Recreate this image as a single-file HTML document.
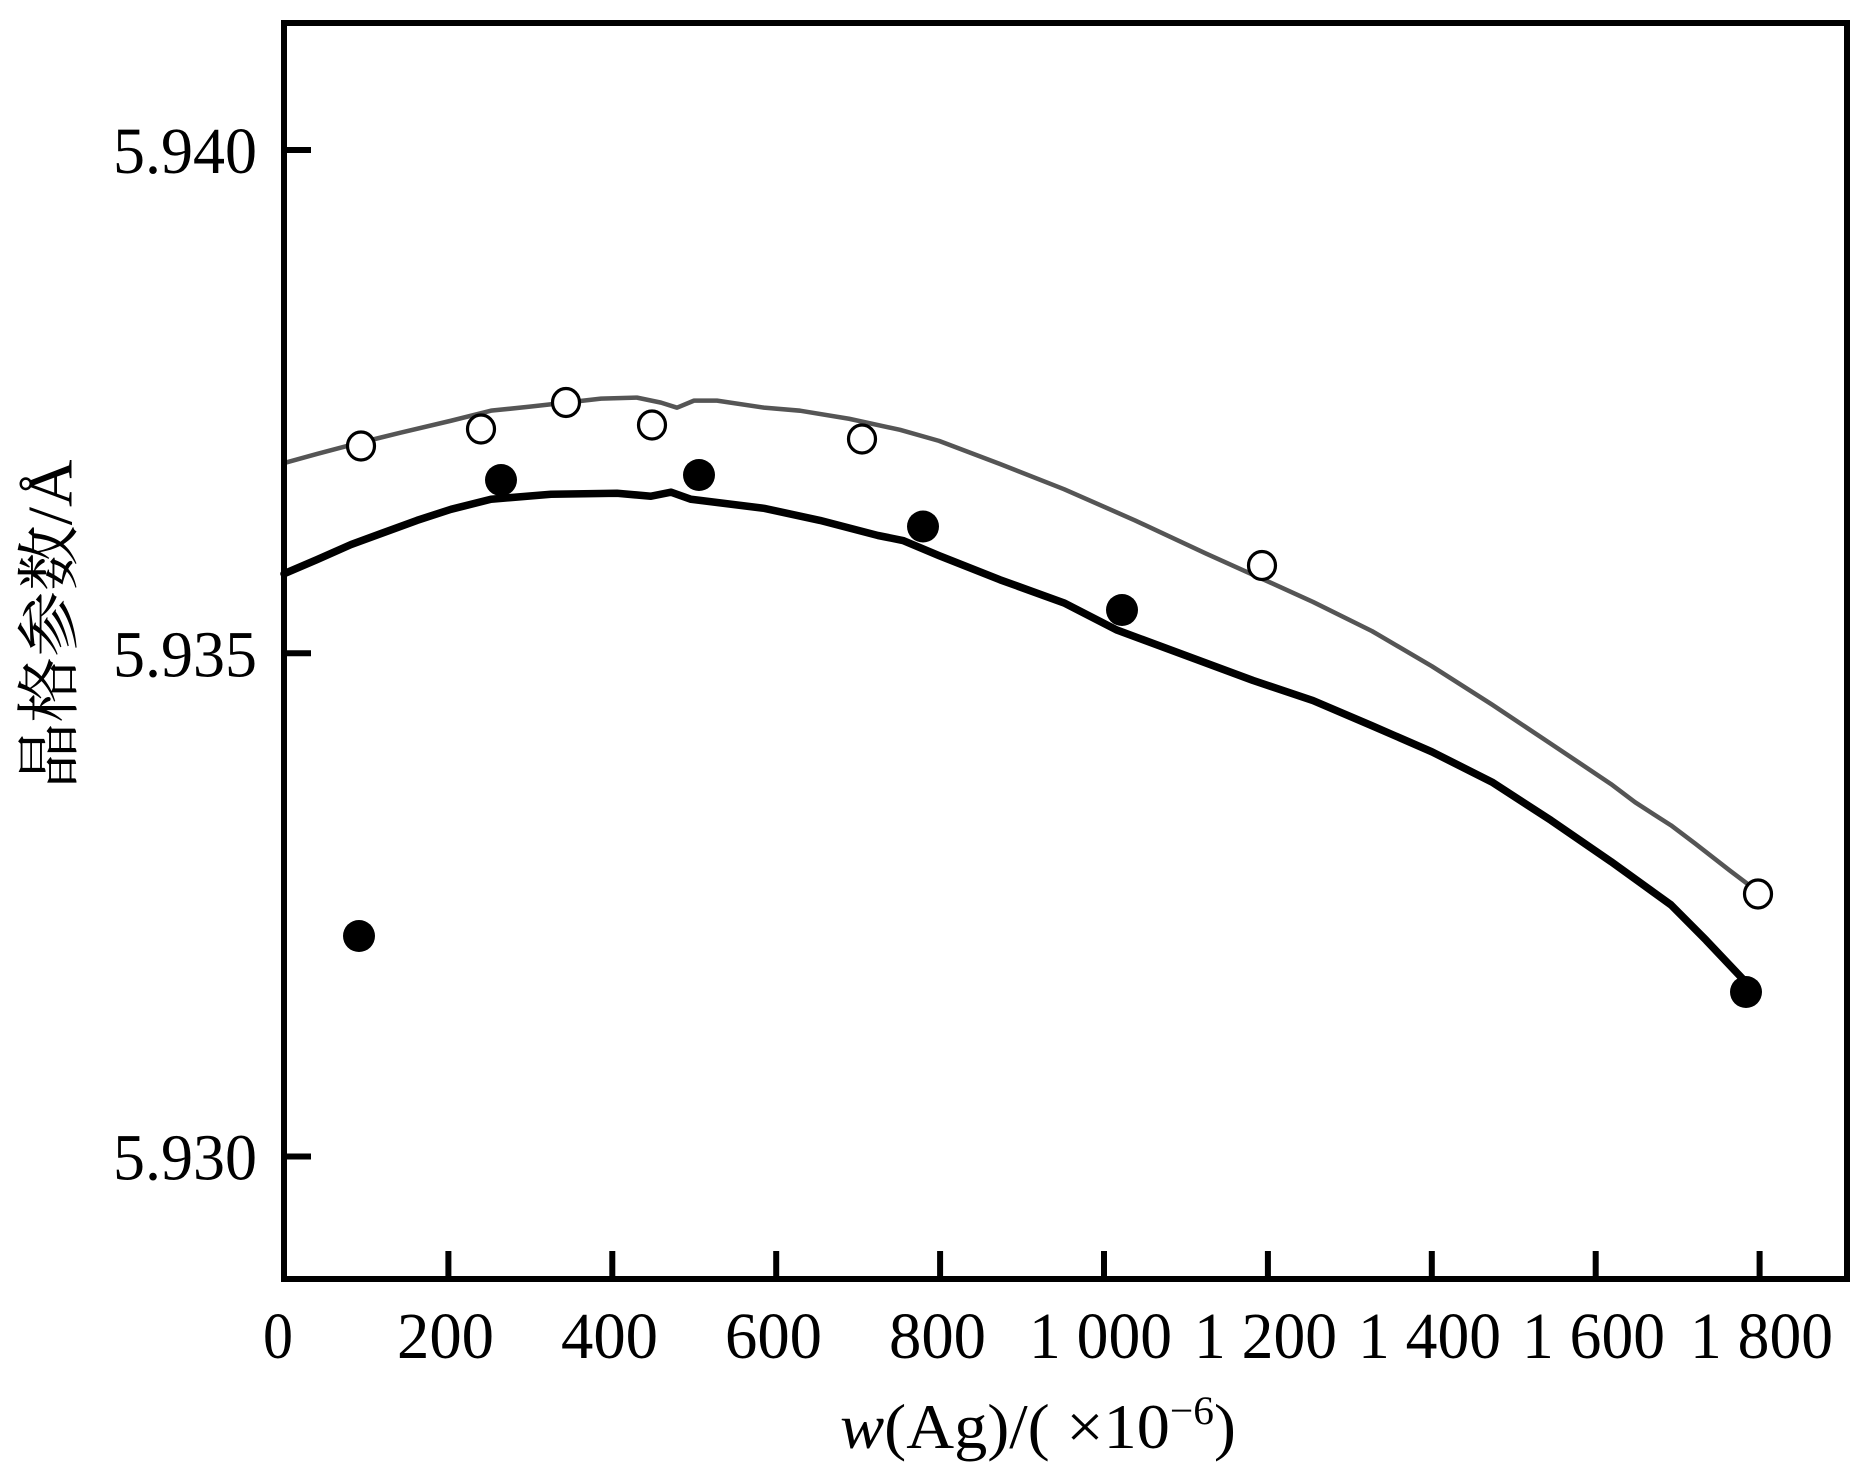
<!DOCTYPE html>
<html>
<head>
<meta charset="utf-8">
<style>
  html, body { margin:0; padding:0; background:#fff; }
  svg { display:block; }
</style>
</head>
<body>
<svg width="1873" height="1464" viewBox="0 0 1873 1464" xmlns="http://www.w3.org/2000/svg">
  <rect x="0" y="0" width="1873" height="1464" fill="#fff"/>

  <!-- curves -->
  <g transform="matrix(1,0,0,1.0065,0,-0.975)">
  <polyline fill="none" stroke="#555" stroke-width="4.5" stroke-linejoin="round" stroke-linecap="round"
    points="284,461 317,452 351,443 400,431 451,419 491,409 530,405 566,401 601,397 637,396 661,401 677,406 694,399 717,399 764,406 800,409 849,417 900,428 939,439 1000,462 1064,487 1135,518 1206,551 1262,576 1313,599 1372,628 1432,663 1492,701 1551,740 1611,780 1635,798 1671,821 1695,839 1730,866 1758,887"/>
  <polyline fill="none" stroke="#000" stroke-width="7.5" stroke-linejoin="round" stroke-linecap="round"
    points="284,571 317,557 351,542 417,518 451,507 491,497 551,492 617,491 651,494 671,490 691,497 764,506 820,518 878,533 903,538 939,553 1000,577 1064,600 1117,627 1196,656 1253,677 1313,697 1372,722 1432,748 1492,778 1551,816 1611,857 1671,900 1706,935 1746,977"/>
  </g>

  <!-- open circles -->
  <g fill="#fff" stroke="#000" stroke-width="3.2">
    <ellipse cx="361" cy="446" rx="13.5" ry="14"/>
    <ellipse cx="481" cy="429" rx="13.5" ry="14"/>
    <ellipse cx="566" cy="402.5" rx="13.5" ry="14"/>
    <ellipse cx="652" cy="425" rx="13.5" ry="14"/>
    <ellipse cx="862" cy="439" rx="13.5" ry="14"/>
    <ellipse cx="1262" cy="565.5" rx="13.5" ry="14"/>
    <ellipse cx="1758" cy="894" rx="13.5" ry="14"/>
  </g>
  <!-- filled circles -->
  <g fill="#000">
    <circle cx="359" cy="936" r="16"/>
    <circle cx="501" cy="480" r="16"/>
    <circle cx="699" cy="475" r="16"/>
    <circle cx="923" cy="526.5" r="16"/>
    <circle cx="1122" cy="610" r="16"/>
    <circle cx="1746" cy="992" r="16"/>
  </g>

  <!-- frame -->
  <rect x="284" y="23" width="1563" height="1256" fill="none" stroke="#000" stroke-width="6"/>

  <!-- y ticks -->
  <g stroke="#000" stroke-width="6">
    <line x1="284" y1="150" x2="311" y2="150"/>
    <line x1="284" y1="653.3" x2="311" y2="653.3"/>
    <line x1="284" y1="1156.5" x2="311" y2="1156.5"/>
  </g>
  <!-- x ticks -->
  <g stroke="#000" stroke-width="6">
    <line x1="448.4" y1="1279" x2="448.4" y2="1251"/>
    <line x1="612.3" y1="1279" x2="612.3" y2="1251"/>
    <line x1="776.2" y1="1279" x2="776.2" y2="1251"/>
    <line x1="940.1" y1="1279" x2="940.1" y2="1251"/>
    <line x1="1104" y1="1279" x2="1104" y2="1251"/>
    <line x1="1267.9" y1="1279" x2="1267.9" y2="1251"/>
    <line x1="1431.8" y1="1279" x2="1431.8" y2="1251"/>
    <line x1="1595.7" y1="1279" x2="1595.7" y2="1251"/>
    <line x1="1759.6" y1="1279" x2="1759.6" y2="1251"/>
  </g>

  <!-- y tick labels -->
  <g font-family="'Liberation Serif', serif" font-size="66" fill="#000" text-anchor="end">
    <text x="257" y="173" textLength="144" lengthAdjust="spacingAndGlyphs">5.940</text>
    <text x="257" y="676.5" textLength="144" lengthAdjust="spacingAndGlyphs">5.935</text>
    <text x="257" y="1179.5" textLength="144" lengthAdjust="spacingAndGlyphs">5.930</text>
  </g>

  <!-- x tick labels -->
  <g font-family="'Liberation Serif', serif" font-size="66" fill="#000">
    <text x="263" y="1358" textLength="30" lengthAdjust="spacingAndGlyphs">0</text>
    <text x="397" y="1358" textLength="97" lengthAdjust="spacingAndGlyphs">200</text>
    <text x="561" y="1358" textLength="97" lengthAdjust="spacingAndGlyphs">400</text>
    <text x="725" y="1358" textLength="97" lengthAdjust="spacingAndGlyphs">600</text>
    <text x="889" y="1358" textLength="97" lengthAdjust="spacingAndGlyphs">800</text>
    <text x="1029" y="1358" textLength="143" lengthAdjust="spacingAndGlyphs">1 000</text>
    <text x="1194" y="1358" textLength="143" lengthAdjust="spacingAndGlyphs">1 200</text>
    <text x="1358" y="1358" textLength="143" lengthAdjust="spacingAndGlyphs">1 400</text>
    <text x="1522" y="1358" textLength="143" lengthAdjust="spacingAndGlyphs">1 600</text>
    <text x="1690" y="1358" textLength="143" lengthAdjust="spacingAndGlyphs">1 800</text>
  </g>

  <!-- x axis title -->
  <text x="840" y="1448" font-family="'Liberation Serif', serif" font-size="64" fill="#000" textLength="396" lengthAdjust="spacingAndGlyphs"><tspan font-style="italic">w</tspan>(Ag)/( ×10<tspan font-size="40" dy="-24">−6</tspan><tspan dy="24">)</tspan></text>

  <!-- y axis title -->
  <text transform="translate(50,624) rotate(-90)" text-anchor="middle" dominant-baseline="central"
    font-family="'Liberation Serif', 'Noto Serif CJK SC', 'Noto Sans CJK SC', serif" font-size="64" fill="#000"
    textLength="329" lengthAdjust="spacingAndGlyphs">晶格参数/Å</text>
</svg>
</body>
</html>
